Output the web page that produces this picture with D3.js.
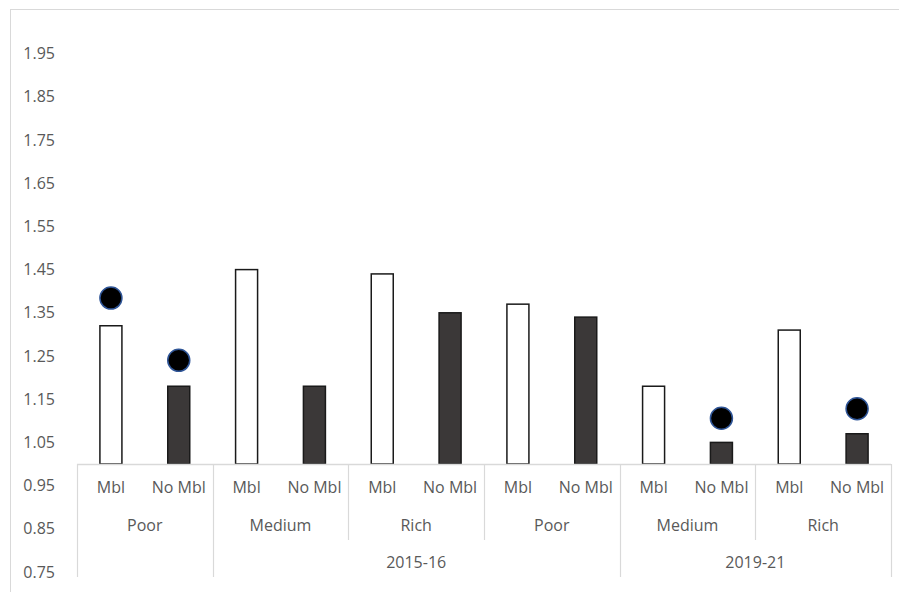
<!DOCTYPE html>
<html>
<head>
<meta charset="utf-8">
<script src="https://cdn.jsdelivr.net/npm/d3@7"></script>
<style>
  html, body { margin: 0; padding: 0; background: #fff; }
  svg { display: block; }
</style>
</head>
<body>
<div id="chart"></div>
<script>
// Category levels (inner to outer)
const mobility = ['Mbl', 'No Mbl', 'Mbl', 'No Mbl', 'Mbl', 'No Mbl', 'Mbl', 'No Mbl', 'Mbl', 'No Mbl', 'Mbl', 'No Mbl'];
const income   = ['Poor', 'Poor', 'Medium', 'Medium', 'Rich', 'Rich', 'Poor', 'Poor', 'Medium', 'Medium', 'Rich', 'Rich'];
const period   = ['', '', '2015-16', '2015-16', '2015-16', '2015-16', '2015-16', '2015-16', '2019-21', '2019-21', '2019-21', '2019-21'];

// Series
const barValues = [1.32, 1.18, 1.45, 1.18, 1.44, 1.35, 1.37, 1.34, 1.18, 1.05, 1.31, 1.07];
const dotValues = [1.384, 1.24, null, null, null, null, null, null, null, 1.106, null, 1.128];

// Axis ticks
const yTicks = [0.75, 0.85, 0.95, 1.05, 1.15, 1.25, 1.35, 1.45, 1.55, 1.65, 1.75, 1.85, 1.95];

const W = 899, H = 592;
const FONT = "'Open Sans', sans-serif";
const FONT_SIZE = '16px';
const TEXT = '#595959';
const RULE = '#d9d9d9';
const DARK = '#3b3838';
const DOT_EDGE = '#2f5597';

const svg = d3.select('#chart').append('svg')
  .attr('width', W)
  .attr('height', H);

// chart frame (only top and left edges fall inside the picture)
svg.append('rect')
  .attr('x', 10.5).attr('y', 9.5)
  .attr('width', W + 20).attr('height', H + 20)
  .attr('fill', 'none')
  .attr('stroke', RULE);

const idx = d3.range(mobility.length);

const x = d3.scaleBand()
  .domain(idx)
  .range([77, 891]);

const y = d3.scaleLinear()
  .domain([0.75, 2.0])
  .range([572, 32]);

const base = y(1.0);

// Y axis labels
const yAxis = svg.append('g')
  .attr('transform', 'translate(58,0)')
  .call(d3.axisLeft(y).tickValues(yTicks).tickSize(0).tickFormat(d3.format('.2f')));
yAxis.select('.domain').remove();
yAxis.selectAll('text')
  .style('font-family', FONT)
  .style('font-size', FONT_SIZE)
  .style('fill', TEXT);

// Bars
const barW = 22;
svg.selectAll('.bar')
  .data(barValues)
  .join('rect')
  .attr('class', 'bar')
  .attr('x', (d, i) => x(i) + x.bandwidth() / 2 - barW / 2)
  .attr('y', d => y(d))
  .attr('width', barW)
  .attr('height', d => base - y(d))
  .attr('fill', (d, i) => mobility[i] === 'Mbl' ? '#fff' : DARK)
  .attr('stroke', '#1a1a1a')
  .attr('stroke-width', 1.5);

// Category axis line
svg.append('line')
  .attr('x1', x.range()[0]).attr('x2', x.range()[1])
  .attr('y1', base + 0.5).attr('y2', base + 0.5)
  .attr('stroke', RULE)
  .attr('stroke-width', 1.5);

// Dots
svg.selectAll('.dot')
  .data(dotValues.map((v, i) => ({ v, i })).filter(d => d.v != null))
  .join('circle')
  .attr('class', 'dot')
  .attr('cx', d => x(d.i) + x.bandwidth() / 2)
  .attr('cy', d => y(d.v))
  .attr('r', 11)
  .attr('fill', '#000')
  .attr('stroke', DOT_EDGE)
  .attr('stroke-width', 1.5);

// group consecutive categories by key
function runs(keyFn) {
  const out = [];
  idx.forEach(i => {
    const k = keyFn(i);
    const last = out[out.length - 1];
    if (last && last.key === k) last.end = i;
    else out.push({ key: k, start: i, end: i });
  });
  return out;
}

const row1 = base + 25, row2 = base + 63, row3 = base + 100;
const midTick = base + 76, fullTick = base + 113;

function label(g, tx, ty, t) {
  g.append('text')
    .attr('x', tx).attr('y', ty)
    .attr('text-anchor', 'middle')
    .attr('dominant-baseline', 'middle')
    .style('font-family', FONT)
    .style('font-size', FONT_SIZE)
    .style('fill', TEXT)
    .text(t);
}

const cat = svg.append('g');

// level 1
idx.forEach(i => label(cat, x(i) + x.bandwidth() / 2, row1, mobility[i]));

// level 2
const incomeRuns = runs(i => period[i] + '|' + income[i]);
incomeRuns.forEach(r => {
  label(cat, (x(r.start) + x(r.end) + x.bandwidth()) / 2, row2, income[r.start]);
});

// level 3
const periodRuns = runs(i => period[i] === '' ? 'blank' : period[i]);
periodRuns.forEach(r => {
  if (period[r.start]) label(cat, (x(r.start) + x(r.end) + x.bandwidth()) / 2, row3, period[r.start]);
});

// dividers
const fullEdges = new Set([x(0)]);
periodRuns.forEach(r => fullEdges.add(x(r.end) + x.bandwidth()));
const edges = new Set([x(0)]);
incomeRuns.forEach(r => edges.add(x(r.end) + x.bandwidth()));

edges.forEach(ex => {
  const full = [...fullEdges].some(f => Math.abs(f - ex) < 0.5);
  cat.append('line')
    .attr('x1', Math.round(ex) + 0.5).attr('x2', Math.round(ex) + 0.5)
    .attr('y1', base).attr('y2', full ? fullTick : midTick)
    .attr('stroke', RULE)
    .attr('stroke-width', 1.2);
});
</script>
</body>
</html>
